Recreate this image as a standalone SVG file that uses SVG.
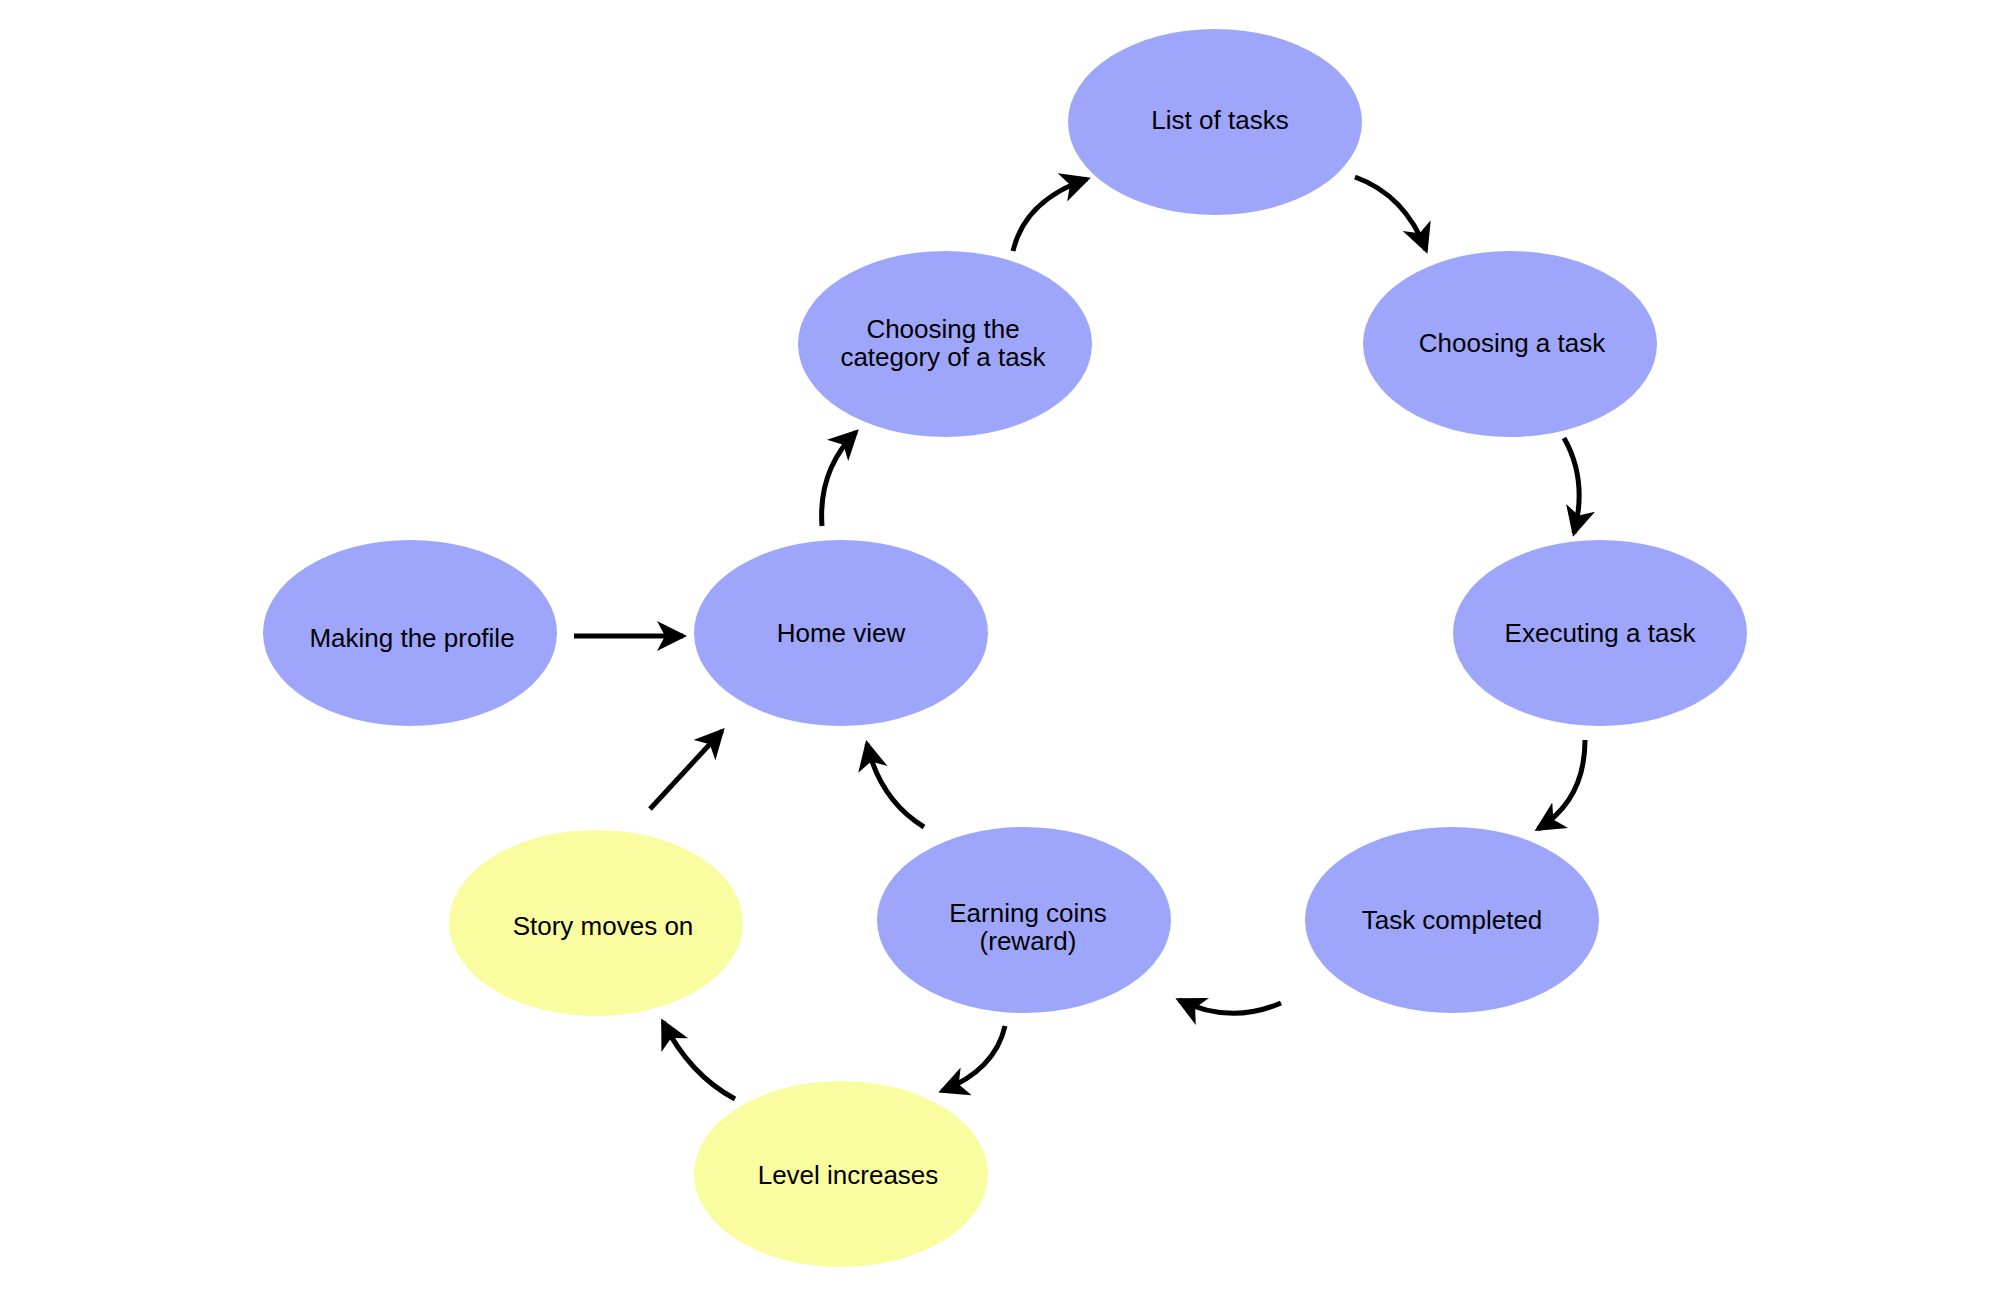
<svg xmlns="http://www.w3.org/2000/svg" width="2000" height="1290" viewBox="0 0 2000 1290">
<style>
.b{fill:#9ea6fc}.y{fill:#fafca0}
text{font-family:"Liberation Sans",Arial,sans-serif;font-size:26px;fill:#000;text-anchor:middle;dominant-baseline:central}
.c path{fill:none;stroke:#000;stroke-width:5;marker-end:url(#a)}
</style>
<defs><marker id="a" markerUnits="userSpaceOnUse" markerWidth="34" markerHeight="34" refX="26" refY="15" orient="auto"><path d="M0,0 L30,15 L0,30 L8,15 Z" fill="#000"/></marker></defs>
<rect width="2000" height="1290" fill="#fff"/>
<g id="list"><ellipse class="b" cx="1215" cy="122" rx="147" ry="93"/><text x="1220" y="120">List of tasks</text></g>
<g id="choosetask"><ellipse class="b" cx="1510" cy="344" rx="147" ry="93"/><text x="1512" y="343">Choosing a task</text></g>
<g id="category"><ellipse class="b" cx="945" cy="344" rx="147" ry="93"/><text x="943" y="329">Choosing the</text><text x="943" y="357">category of a task</text></g>
<g id="home"><ellipse class="b" cx="841" cy="633" rx="147" ry="93"/><text x="841" y="633">Home view</text></g>
<g id="profile"><ellipse class="b" cx="410" cy="633" rx="147" ry="93"/><text x="412" y="638">Making the profile</text></g>
<g id="exec"><ellipse class="b" cx="1600" cy="633" rx="147" ry="93"/><text x="1600" y="633">Executing a task</text></g>
<g id="completed"><ellipse class="b" cx="1452" cy="920" rx="147" ry="93"/><text x="1452" y="920">Task completed</text></g>
<g id="coins"><ellipse class="b" cx="1024" cy="920" rx="147" ry="93"/><text x="1028" y="913">Earning coins</text><text x="1028" y="941">(reward)</text></g>
<g id="story"><ellipse class="y" cx="596" cy="923" rx="147" ry="93"/><text x="603" y="926">Story moves on</text></g>
<g id="level"><ellipse class="y" cx="841" cy="1174" rx="147" ry="93"/><text x="848" y="1175">Level increases</text></g>
<g class="c" id="connectors">
<path d="M1013,251 Q1025,200 1087,179"/>
<path d="M1355,177 Q1405,195 1426,250"/>
<path d="M1564,438 Q1588,480 1574,533"/>
<path d="M1585,740 Q1585,800 1538,829"/>
<path d="M1281,1003 Q1230,1025 1179,1000"/>
<path d="M1005,1026 Q995,1070 942,1091"/>
<path d="M735,1099 Q690,1075 663,1022"/>
<path d="M650,809 L722,731"/>
<path d="M924,827 Q880,800 867,744"/>
<path d="M822,526 Q818,470 856,432"/>
<path d="M574,636 L683,636"/>
</g>
</svg>
